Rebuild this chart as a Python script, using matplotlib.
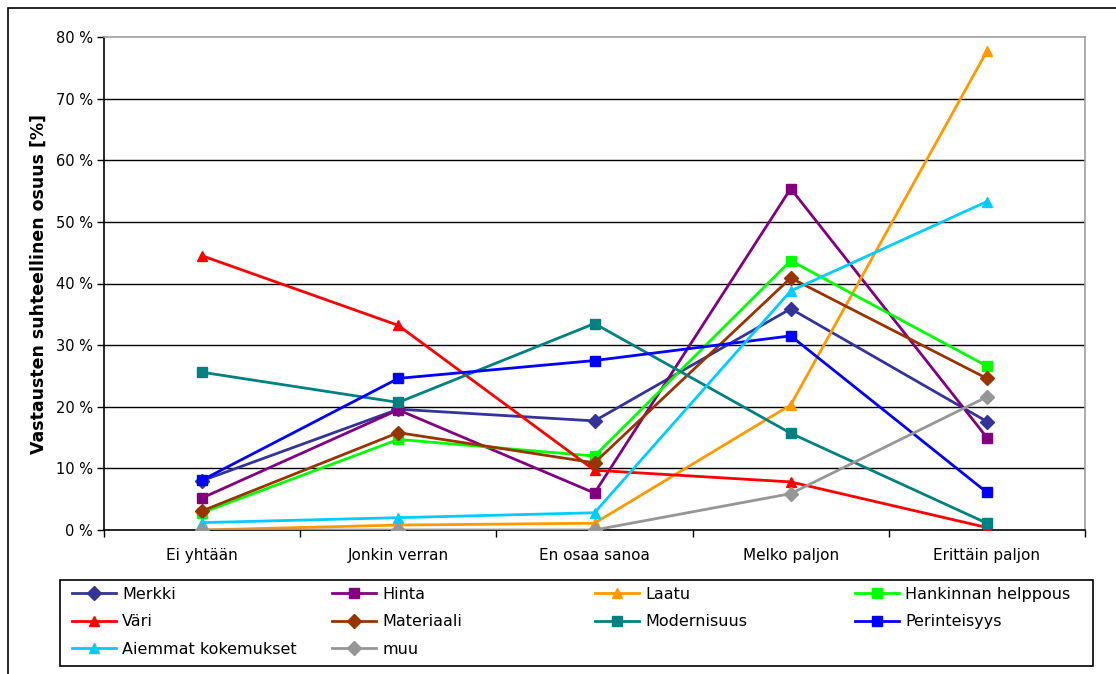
import matplotlib.pyplot as plt
from matplotlib.patches import Rectangle
from matplotlib.ticker import FixedLocator, FuncFormatter

plt.rcParams['font.family'] = ['DejaVu Sans']

categories = ["Ei yhtään", "Jonkin verran", "En osaa sanoa", "Melko paljon", "Erittäin paljon"]

merkki = [8.0, 19.6, 17.7, 35.9, 17.6]
hinta = [5.2, 19.5, 6.0, 55.4, 15.0]
laatu = [0.0, 0.8, 1.1, 20.3, 77.7]
hankinnan = [2.8, 14.7, 12.0, 43.7, 26.6]
vari = [44.5, 33.2, 9.7, 7.8, 0.4]
materiaali = [3.1, 15.8, 10.9, 40.9, 24.6]
modernisuus = [25.6, 20.7, 33.5, 15.7, 1.1]
perinteisyys = [8.1, 24.6, 27.5, 31.5, 6.1]
aiemmat = [1.2, 2.0, 2.8, 38.8, 53.3]
muu = [0.0, 0.0, 0.0, 5.9, 21.6]

series = [
    ("Merkki", merkki, "#333399", "D"),
    ("Hinta", hinta, "#800080", "s"),
    ("Laatu", laatu, "#FF9900", "^"),
    ("Hankinnan helppous", hankinnan, "#00FF00", "s"),
    ("Väri", vari, "#FF0000", "^"),
    ("Materiaali", materiaali, "#993300", "D"),
    ("Modernisuus", modernisuus, "#008080", "s"),
    ("Perinteisyys", perinteisyys, "#0000FF", "s"),
    ("Aiemmat kokemukset", aiemmat, "#00CCFF", "^"),
    ("muu", muu, "#969696", "D"),
]

fig = plt.figure(figsize=(11.16, 6.74), dpi=100)
ax = fig.add_axes([104/1116, 1 - 530/674, (1085-104)/1116, (530-37)/674])

x = list(range(len(categories)))
handles = []
for name, vals, col, mk in series:
    ln, = ax.plot(x, vals, color=col, marker=mk, markersize=7, linewidth=2,
                  label=name, zorder=3)
    handles.append(ln)

ax.set_xlim(-0.5, 4.5)
ax.set_ylim(0, 80)
ax.set_yticks(range(0, 81, 10))
ax.yaxis.set_major_formatter(FuncFormatter(lambda v, p: f"{int(v)} %"))
for yv in range(10, 80, 10):
    ax.axhline(yv, color="black", linewidth=1, zorder=1)

ax.set_xticks(x)
ax.set_xticklabels(categories, fontsize=11)
ax.tick_params(axis="x", which="major", length=0, pad=13)
ax.xaxis.set_minor_locator(FixedLocator([-0.5, 0.5, 1.5, 2.5, 3.5, 4.5]))
ax.tick_params(axis="x", which="minor", length=5, width=1, direction="out")
ax.tick_params(axis="y", length=5, width=1, labelsize=10.5, pad=3)

for s in ["left", "bottom"]:
    ax.spines[s].set_color("black")
    ax.spines[s].set_linewidth(1.2)
for s in ["top", "right"]:
    ax.spines[s].set_color("#A0A0A0")
    ax.spines[s].set_linewidth(1.2)

ax.set_ylabel("Vastausten suhteellinen osuus [%]", fontsize=12.5, fontweight="bold", labelpad=6)

# legenda: neljä saraketta, täytetään rivi kerrallaan kuten Excelissä
col_x = [72, 332, 595, 855]
for c in range(4):
    hs = handles[c::4]
    fig.legend(handles=hs, loc="upper left",
               bbox_to_anchor=(col_x[c]/1116, 1 - 587/674),
               fontsize=11.5, frameon=False, handlelength=2.75, handletextpad=0.4,
               borderpad=0, borderaxespad=0, labelspacing=0.78)
fig.patches.append(Rectangle((60/1116, 1 - 666/674), (1093-60)/1116, (666-580)/674,
                             transform=fig.transFigure, fill=False,
                             edgecolor="black", linewidth=1.2))

# kuvan reunaviiva
fig.patches.append(Rectangle((8/1116, -0.1), 1.2, 1 - 8/674 + 0.1, transform=fig.transFigure,
                             fill=False, edgecolor="black", linewidth=1.2))

fig.savefig("out.png", dpi=100)
